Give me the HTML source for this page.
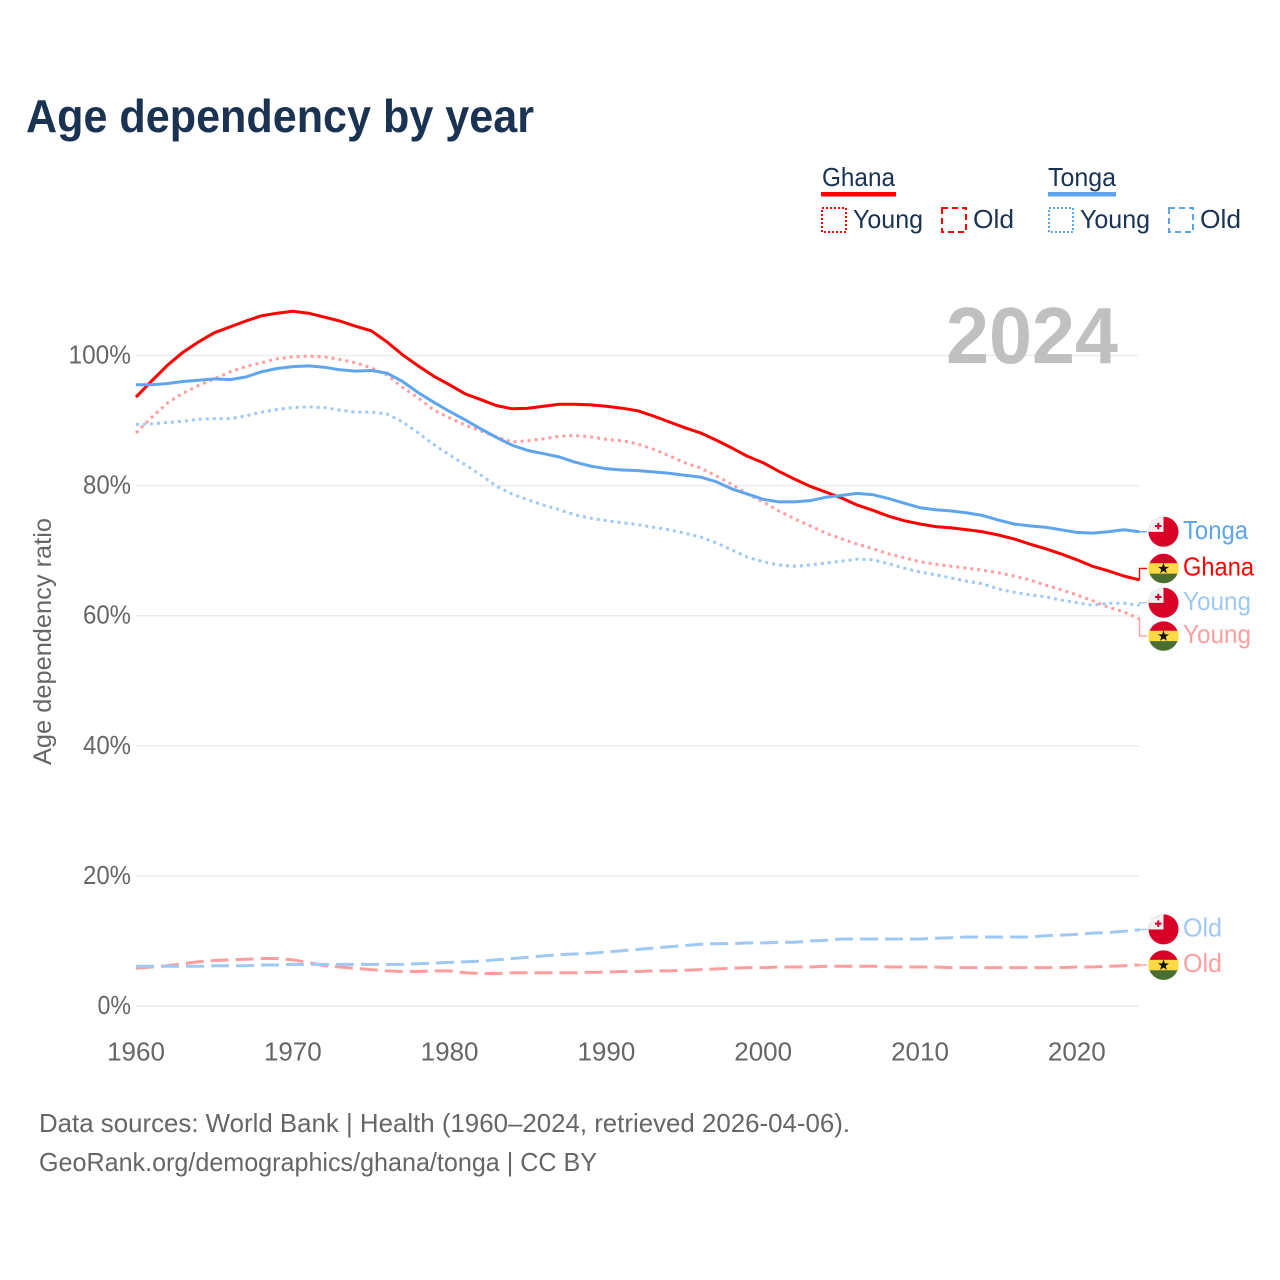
<!DOCTYPE html>
<html lang="en">
<head>
<meta charset="utf-8">
<title>Age dependency by year</title>
<style>
html,body{margin:0;padding:0;background:#fff;}
svg{display:block;}
text{font-family:"Liberation Sans",sans-serif;}
</style>
</head>
<body>
<svg id="chart" xmlns="http://www.w3.org/2000/svg" width="1280" height="1280" viewBox="0 0 1280 1280">
  <rect width="1280" height="1280" fill="#fff"/>
  <text x="26" y="132" font-size="46" font-weight="700" fill="#1a3352" textLength="508" lengthAdjust="spacingAndGlyphs">Age dependency by year</text>

  <g font-size="26" fill="#1a3352">
    <g>
      <text x="822" y="186" textLength="73" lengthAdjust="spacingAndGlyphs">Ghana</text>
      <rect x="821" y="192" width="75" height="4.5" fill="#ff0000"/>
      <rect x="822" y="208" width="24" height="24" fill="none" stroke="#ff0000" stroke-width="2" stroke-dasharray="2 2"/>
      <text x="853" y="228" textLength="70" lengthAdjust="spacingAndGlyphs">Young</text>
      <rect x="942" y="208" width="24" height="24" fill="none" stroke="#ff0000" stroke-width="2" stroke-dasharray="6 4"/>
      <text x="973" y="228" textLength="41" lengthAdjust="spacingAndGlyphs">Old</text>
    </g>
    <g>
      <text x="1048" y="186" textLength="68" lengthAdjust="spacingAndGlyphs">Tonga</text>
      <rect x="1048" y="192" width="68" height="4.5" fill="#5fa5ee"/>
      <rect x="1049" y="208" width="24" height="24" fill="none" stroke="#5fa5ee" stroke-width="2" stroke-dasharray="2 2"/>
      <text x="1080" y="228" textLength="70" lengthAdjust="spacingAndGlyphs">Young</text>
      <rect x="1169" y="208" width="24" height="24" fill="none" stroke="#5fa5ee" stroke-width="2" stroke-dasharray="6 4"/>
      <text x="1200" y="228" textLength="41" lengthAdjust="spacingAndGlyphs">Old</text>
    </g>
  </g>

  <text transform="translate(51,641.5) rotate(-90)" text-anchor="middle" font-size="25" fill="#666" textLength="247" lengthAdjust="spacingAndGlyphs">Age dependency ratio</text>

  <g id="grid"></g>
  <g id="yticks"></g>
  <g id="xticks"></g>
  <text id="yearLabel" x="946" y="363" font-size="80" font-weight="700" fill="#bdbdbd" fill-opacity="0.95" textLength="172" lengthAdjust="spacingAndGlyphs"></text>
  <g id="series"></g>
  <g id="labels"></g>

  <text x="39" y="1132" font-size="26" fill="#666" textLength="811" lengthAdjust="spacingAndGlyphs">Data sources: World Bank | Health (1960–2024, retrieved 2026-04-06).</text>
  <text x="39" y="1171" font-size="26" fill="#666" textLength="558" lengthAdjust="spacingAndGlyphs">GeoRank.org/demographics/ghana/tonga | CC BY</text>
</svg>
<script>
const years = [1960,1961,1962,1963,1964,1965,1966,1967,1968,1969,1970,1971,1972,1973,1974,1975,1976,1977,1978,1979,1980,1981,1982,1983,1984,1985,1986,1987,1988,1989,1990,1991,1992,1993,1994,1995,1996,1997,1998,1999,2000,2001,2002,2003,2004,2005,2006,2007,2008,2009,2010,2011,2012,2013,2014,2015,2016,2017,2018,2019,2020,2021,2022,2023,2024];
const ghanaTotal = [93.6,96.1,98.5,100.5,102.1,103.5,104.4,105.3,106.1,106.5,106.8,106.5,105.9,105.3,104.5,103.8,102.1,100.1,98.4,96.8,95.5,94.1,93.2,92.3,91.8,91.9,92.2,92.5,92.5,92.4,92.2,91.9,91.5,90.7,89.8,88.9,88.1,87.0,85.8,84.5,83.5,82.2,81.0,79.9,79.0,78.1,77.0,76.2,75.3,74.6,74.1,73.7,73.5,73.2,72.9,72.4,71.8,71.0,70.3,69.5,68.6,67.6,66.9,66.1,65.5];
const tongaTotal = [95.5,95.5,95.7,96.0,96.2,96.4,96.3,96.7,97.5,98.0,98.3,98.4,98.2,97.8,97.6,97.7,97.3,96.0,94.3,92.8,91.4,90.1,88.7,87.4,86.2,85.4,84.9,84.4,83.6,83.0,82.6,82.4,82.3,82.1,81.9,81.6,81.3,80.6,79.5,78.7,77.9,77.5,77.5,77.7,78.2,78.5,78.8,78.6,78.0,77.3,76.6,76.3,76.1,75.8,75.4,74.7,74.1,73.8,73.6,73.2,72.8,72.7,72.9,73.2,72.9];
const ghanaYoung = [88.1,90.5,92.7,94.2,95.4,96.4,97.5,98.3,98.9,99.5,99.8,99.9,99.8,99.4,98.9,98.1,97.0,95.1,93.5,91.6,90.4,89.3,88.4,87.5,86.7,86.9,87.2,87.6,87.7,87.5,87.1,86.9,86.4,85.6,84.6,83.5,82.7,81.5,80.2,78.7,77.5,76.1,74.9,73.8,72.7,71.8,71.0,70.3,69.5,68.9,68.3,67.9,67.6,67.3,67.0,66.6,66.1,65.5,64.7,64.0,63.2,62.3,61.3,60.6,59.5];
const tongaYoung = [89.4,89.5,89.7,89.9,90.2,90.3,90.3,90.7,91.3,91.7,92.0,92.1,92.0,91.6,91.3,91.3,91.0,89.8,88.1,86.3,84.7,83.2,81.6,79.9,78.7,77.8,77.0,76.3,75.5,75.0,74.6,74.3,74.0,73.6,73.2,72.7,72.1,71.2,70.1,69.0,68.3,67.8,67.6,67.8,68.1,68.4,68.7,68.6,68.0,67.3,66.7,66.3,65.8,65.3,64.9,64.1,63.6,63.2,62.9,62.4,62.0,61.6,61.9,61.9,61.6];
const ghanaOld = [5.8,6.0,6.2,6.5,6.8,7.0,7.1,7.2,7.3,7.3,7.1,6.7,6.2,6.0,5.8,5.6,5.4,5.3,5.3,5.4,5.4,5.1,5.0,5.0,5.1,5.1,5.1,5.1,5.1,5.2,5.2,5.3,5.3,5.4,5.4,5.5,5.6,5.7,5.8,5.9,5.9,6.0,6.0,6.0,6.1,6.1,6.1,6.1,6.0,6.0,6.0,6.0,5.9,5.9,5.9,5.9,5.9,5.9,5.9,5.9,6.0,6.0,6.1,6.2,6.3];
const tongaOld = [6.1,6.1,6.1,6.1,6.1,6.2,6.2,6.2,6.3,6.3,6.4,6.4,6.4,6.4,6.4,6.4,6.4,6.4,6.5,6.6,6.7,6.8,6.9,7.1,7.3,7.5,7.7,7.9,8.0,8.1,8.3,8.5,8.7,8.9,9.1,9.3,9.5,9.6,9.6,9.7,9.7,9.8,9.8,10.0,10.1,10.3,10.3,10.3,10.3,10.3,10.3,10.4,10.5,10.6,10.6,10.6,10.6,10.6,10.8,10.9,11.0,11.2,11.3,11.5,11.7];
const yTickValues = [0,20,40,60,80,100];
const xTickValues = [1960,1970,1980,1990,2000,2010,2020];

const NS = 'http://www.w3.org/2000/svg';
const RED = '#ff0000', BLUE = '#5fa5ee', PINK = '#ff9e9e', SKY = '#a0c8f4';
function xScale(year){ return 136 + (year - 1960) * 15.68; }
function yScale(v){ return 1006 - v * 6.505; }
function make(tag, attrs, parent){
  const el = document.createElementNS(NS, tag);
  Object.keys(attrs).forEach(function(k){ el.setAttribute(k, attrs[k]); });
  parent.appendChild(el);
  return el;
}

const gridG = document.getElementById('grid');
const yTickG = document.getElementById('yticks');
const xTickG = document.getElementById('xticks');
const seriesG = document.getElementById('series');
const labelsG = document.getElementById('labels');

yTickValues.forEach(function(v){
  const line = make('line', {x1:136, x2:1139, y1:yScale(v), y2:yScale(v), stroke:'#ececec', 'stroke-width':1.5}, gridG);
  
  
  const digits = String(v).length;
  const t = make('text', {x:131, y:yScale(v)+8, 'text-anchor':'end', 'font-size':26, fill:'#666', textLength:digits*14.5+19, lengthAdjust:'spacingAndGlyphs'}, yTickG);
  t.textContent = v + '%';
  
  
});

xTickValues.forEach(function(v){
  const t = make('text', {x:xScale(v), y:1060.5, 'text-anchor':'middle', 'font-size':26, fill:'#666'}, xTickG);
  t.textContent = String(v);
  
  
});

document.getElementById('yearLabel').textContent = String(years[years.length-1]);

function drawLine(values, color, width, dash, name){
  const pts = values.map(function(v,i){ return xScale(years[i]).toFixed(1) + ',' + yScale(v).toFixed(1); }).join(' ');
  const attrs = {points:pts, fill:'none', stroke:color, 'stroke-width':width, 'stroke-linejoin':'round'};
  if (dash) attrs['stroke-dasharray'] = dash;
  const p = make('polyline', attrs, seriesG);
  
  
}

drawLine(ghanaOld, PINK, 3, '18 7', 'line-ghana-old');
drawLine(tongaOld, SKY, 3, '18 7', 'line-tonga-old');
drawLine(ghanaYoung, PINK, 3, '3 4', 'line-ghana-young');
drawLine(tongaYoung, SKY, 3, '3 4', 'line-tonga-young');
drawLine(ghanaTotal, RED, 3, null, 'line-ghana-total');
drawLine(tongaTotal, BLUE, 3, null, 'line-tonga-total');

function flag(country, cy, parent){
  const g = make('g', {transform:'translate(1163.5,' + cy + ')'}, parent);
  
  
  if (country === 'tonga') {
    make('circle', {r:15, fill:'#d80027'}, g);
    make('path', {d:'M-15,0A15,15 0 0 1 0,-15V0Z', fill:'#f0f0f0'}, g);
    make('rect', {x:-13, y:-12, width:13, height:12, fill:'#f0f0f0'}, g);
    make('rect', {x:-8.5, y:-6.8, width:6.5, height:2, fill:'#d80027'}, g);
    make('rect', {x:-6.2, y:-9, width:2, height:6.5, fill:'#d80027'}, g);
  } else {
    make('path', {d:'M-14,-5A15,15 0 0 1 14,-5Z', fill:'#d80027'}, g);
    make('rect', {x:-15, y:-5.2, width:30, height:10.6, fill:'#ffda44'}, g);
    make('path', {d:'M-14,5.2A15,15 0 0 0 14,5.2Z', fill:'#496e2d'}, g);
    make('polygon', {points:'0,-5.5 1.4,-1.6 5.5,-1.6 2.2,0.9 3.4,4.8 0,2.5 -3.4,4.8 -2.2,0.9 -5.5,-1.6 -1.4,-1.6', fill:'#111'}, g);
  }
}

const labelWidths = {Tonga:65, Ghana:71, Young:68, Old:39};
function endLabel(values, text, color, country, dy, textDy, name){
  const last = values[values.length-1];
  const ex = xScale(years[years.length-1]);
  const ey = yScale(last);
  const ly = ey + dy;
  const c = make('polyline', {points:ex + ',' + ey + ' ' + ex + ',' + ly + ' 1147,' + ly, fill:'none', stroke:color, 'stroke-width':1.4}, labelsG);
  
  
  flag(country, ly, labelsG);
  const t = make('text', {x:1183, y:ly+textDy, 'font-size':26, fill:color, textLength:labelWidths[text], lengthAdjust:'spacingAndGlyphs'}, labelsG);
  t.textContent = text;
  
  
}

endLabel(tongaTotal, 'Tonga', BLUE, 'tonga', 0, 7, 'tonga-total');
endLabel(ghanaTotal, 'Ghana', RED, 'ghana', -11.5, 7, 'ghana-total');
endLabel(tongaYoung, 'Young', SKY, 'tonga', -2.5, 7, 'tonga-young');
endLabel(ghanaYoung, 'Young', PINK, 'ghana', 17, 7, 'ghana-young');
endLabel(tongaOld, 'Old', SKY, 'tonga', -0.5, 7, 'tonga-old');
endLabel(ghanaOld, 'Old', PINK, 'ghana', 0, 7, 'ghana-old');
</script>
</body>
</html>
